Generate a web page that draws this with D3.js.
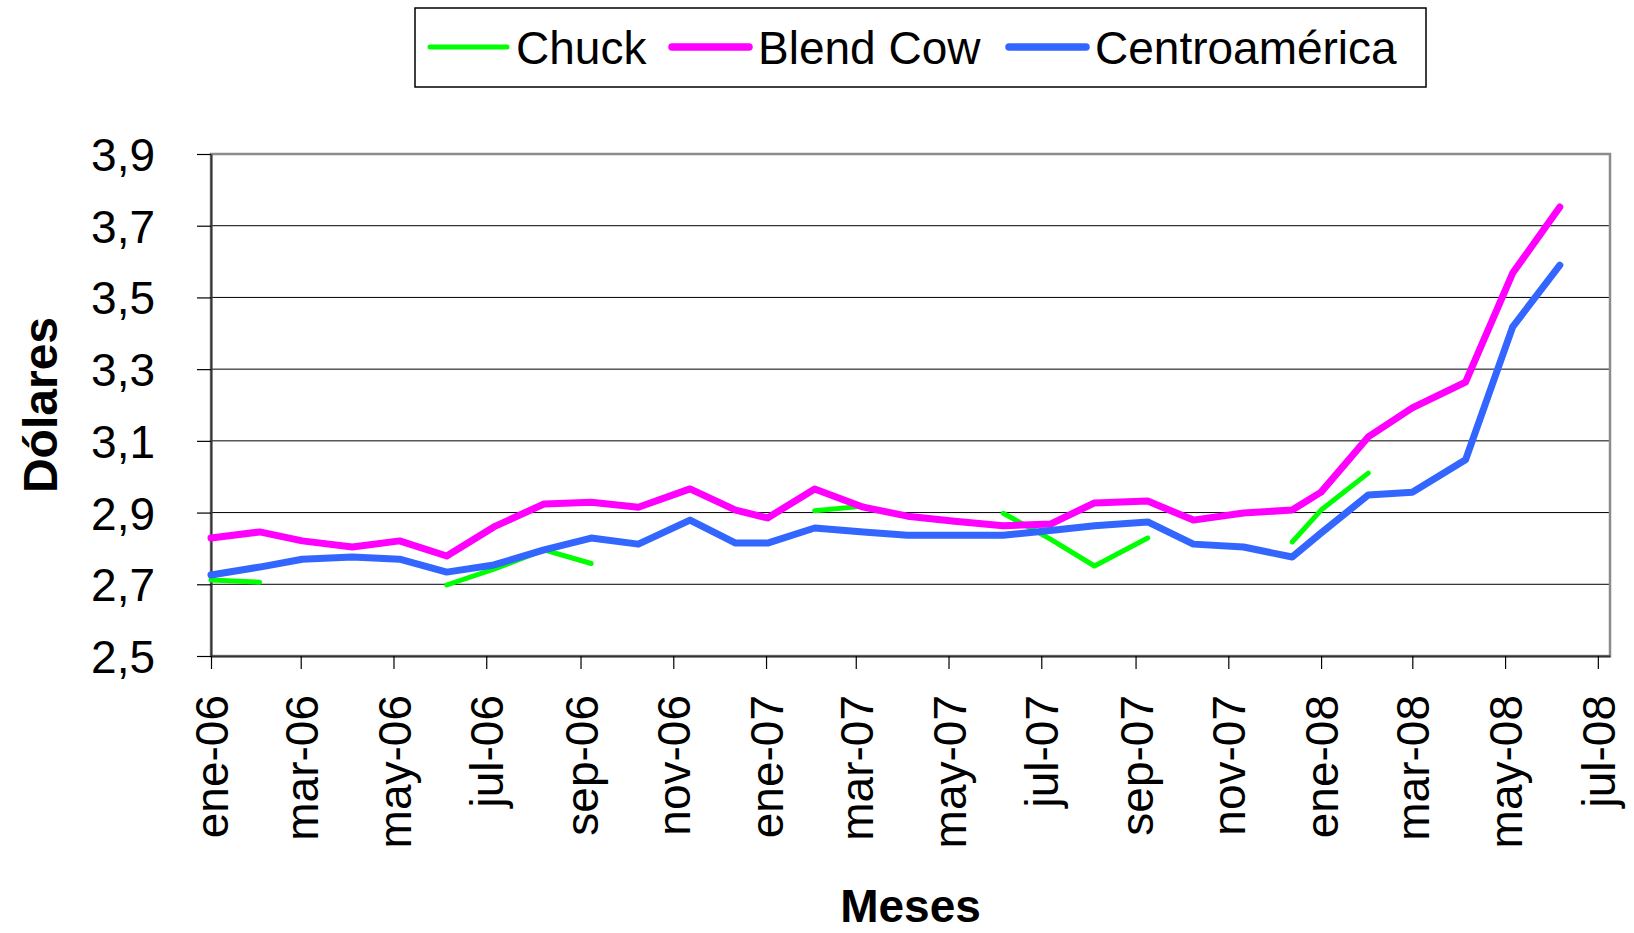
<!DOCTYPE html>
<html>
<head>
<meta charset="utf-8">
<script src="https://cdn.jsdelivr.net/npm/d3@7"></script>
<style>
  body { margin: 0; background: #fff; }
  text { font-family: "Liberation Sans", Arial, sans-serif; }
</style>
</head>
<body>
<svg id="chart" width="1634" height="933"></svg>
<script>
// fechas de cada punto
const fechas = ["2006-01-01","2006-02-02","2006-03-02","2006-04-04","2006-05-05","2006-06-05",
  "2006-07-06","2006-08-08","2006-09-08","2006-10-09","2006-11-12","2006-12-12",
  "2007-01-02","2007-02-02","2007-03-06","2007-04-04","2007-05-05","2007-06-06",
  "2007-07-07","2007-08-05","2007-09-09","2007-10-09","2007-11-11","2007-12-13",
  "2008-01-01","2008-02-01","2008-03-01","2008-04-05","2008-05-06","2008-06-06"];

const chuck = [2.712, 2.706, null, null, null, 2.698, 2.742, 2.796, 2.758, null, null, null,
  null, 2.905, 2.918, null, null, 2.898, 2.826, 2.751, 2.829, null, null, 2.818,
  2.907, 3.010, null, null, null, null];

const blendCow = [2.829, 2.846, 2.821, 2.804, 2.821, 2.779, 2.860, 2.924, 2.929, 2.915, 2.966, 2.907,
  2.885, 2.966, 2.915, 2.890, 2.876, 2.863, 2.868, 2.927, 2.932, 2.879, 2.899, 2.907,
  2.957, 3.111, 3.192, 3.264, 3.568, 3.752];

const centroamerica = [2.726, 2.748, 2.770, 2.776, 2.770, 2.734, 2.754, 2.796, 2.829, 2.812, 2.879, 2.815,
  2.815, 2.857, 2.846, 2.837, 2.837, 2.837, 2.850, 2.863, 2.874, 2.812, 2.804, 2.776,
  2.843, 2.949, 2.957, 3.047, 3.418, 3.590];

const tickLabels = ["ene-06","mar-06","may-06","jul-06","sep-06","nov-06","ene-07","mar-07",
  "may-07","jul-07","sep-07","nov-07","ene-08","mar-08","may-08","jul-08"];
const yTicks = [2.5, 2.7, 2.9, 3.1, 3.3, 3.5, 3.7, 3.9];

const seriesNames = ["Chuck", "Blend Cow", "Centroamérica"];
const seriesValues = [chuck, blendCow, centroamerica];
const colors = ["#00ff00", "#ff00ff", "#3366ff"];
const widths = [5, 7, 7];

const svg = d3.select("#chart");
const plotL = 211, plotR = 1610, plotT = 154, plotB = 656;

const parse = d3.timeParse("%Y-%m-%d");
const dates = fechas.map(parse);

const x = d3.scaleTime().domain([new Date(2006, 0, 1), new Date(2008, 6, 9)]).range([plotL, plotR]);
const y = d3.scaleLinear().domain([2.5, 3.9]).range([plotB, plotT]);

const tickDates = tickLabels.map((t, i) => d3.timeMonth.offset(new Date(2006, 0, 1), i * 2));
const esLocale = d3.formatLocale({ decimal: ",", thousands: ".", grouping: [3], currency: ["$", ""] });
const fmt = esLocale.format(".1f");

// grid
svg.append("g").selectAll("line").data(yTicks.filter(v => v > 2.5 && v < 3.9)).join("line")
  .attr("x1", plotL).attr("x2", plotR)
  .attr("y1", d => y(d)).attr("y2", d => y(d))
  .attr("stroke", "#000").attr("stroke-width", 1);

// plot border
svg.append("rect").attr("x", plotL).attr("y", plotT).attr("width", plotR - plotL).attr("height", plotB - plotT)
  .attr("fill", "none").attr("stroke", "#8c8c8c").attr("stroke-width", 2.5);

// y axis
const yAxis = svg.append("g").attr("transform", `translate(${plotL},0)`)
  .call(d3.axisLeft(y).tickValues(yTicks).tickFormat(fmt).tickSize(14).tickSizeOuter(0).tickPadding(42));
yAxis.select(".domain").attr("stroke", "#333").attr("stroke-width", 2);
yAxis.selectAll(".tick line").attr("stroke", "#000").attr("stroke-width", 1.2);
yAxis.selectAll("text").attr("font-size", 46).attr("fill", "#000").attr("dy", "0.36em")
  .style("font-family", "'Liberation Sans', Arial, sans-serif");

// x axis
const xAxis = svg.append("g").attr("transform", `translate(0,${plotB})`)
  .call(d3.axisBottom(x).tickValues(tickDates).tickFormat((d, i) => tickLabels[i]).tickSize(13).tickSizeOuter(0));
xAxis.select(".domain").attr("stroke", "#333").attr("stroke-width", 2);
xAxis.selectAll(".tick line").attr("stroke", "#000").attr("stroke-width", 1.2);
xAxis.selectAll("text").attr("font-size", 46).attr("fill", "#000")
  .attr("transform", "rotate(-90)").attr("text-anchor", "end")
  .attr("x", -39).attr("y", 0).attr("dy", "0.36em")
  .style("font-family", "'Liberation Sans', Arial, sans-serif");

// series
const line = d3.line()
  .defined(d => d.v != null)
  .x(d => x(d.date))
  .y(d => y(d.v));

seriesValues.forEach((vals, k) => {
  const pts = vals.map((v, i) => ({ date: dates[i], v: v }));
  svg.append("path").datum(pts)
    .attr("d", line)
    .attr("fill", "none")
    .attr("stroke", colors[k])
    .attr("stroke-width", widths[k])
    .attr("stroke-linecap", "round")
    .attr("stroke-linejoin", "round");
});

// axis titles
svg.append("text").attr("transform", "translate(57,405) rotate(-90)")
  .attr("text-anchor", "middle").attr("font-size", 48).attr("font-weight", "bold").text("Dólares");
svg.append("text").attr("x", (plotL + plotR) / 2).attr("y", 922)
  .attr("text-anchor", "middle").attr("font-size", 46).attr("font-weight", "bold").text("Meses");

// legend
const leg = svg.append("g");
leg.append("rect").attr("x", 415).attr("y", 8).attr("width", 1011).attr("height", 79)
  .attr("fill", "#fff").attr("stroke", "#000").attr("stroke-width", 1.5);
const legX = [430, 672, 1009];
seriesNames.forEach((name, k) => {
  leg.append("line").attr("x1", legX[k]).attr("x2", legX[k] + 77).attr("y1", 47).attr("y2", 47)
    .attr("stroke", colors[k]).attr("stroke-width", k === 0 ? 5 : 7.5).attr("stroke-linecap", "round");
  leg.append("text").attr("x", legX[k] + 86).attr("y", 64).attr("font-size", 46).text(name);
});
</script>
</body>
</html>
